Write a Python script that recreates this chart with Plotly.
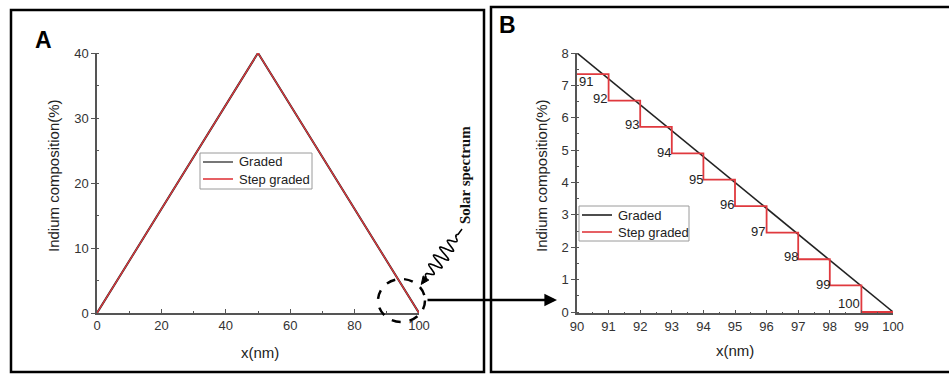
import numpy as np
import plotly.graph_objects as go

W, H = 949, 374

# ---------------- data ----------------
# Panel A: full profile
a_x_graded = [0, 50, 100]
a_y_graded = [0, 40, 0]
a_x_step = [0, 50, 100]
a_y_step = [0, 40, 0]

# Panel B: zoom 90-100 nm
b_x_graded = [90, 100]
b_y_graded = [8, 0]
step_edges = [90, 91, 92, 93, 94, 95, 96, 97, 98, 99, 100]
step_levels = [7.35, 6.53, 5.72, 4.90, 4.09, 3.27, 2.45, 1.63, 0.82, 0.0]
step_labels = ["91", "92", "93", "94", "95", "96", "97", "98", "99", "100"]
label_x = [90.27, 90.72, 91.74, 92.76, 93.78, 94.75, 95.73, 96.77, 97.78, 98.62]
label_y = [7.13, 6.60, 5.79, 4.92, 4.10, 3.32, 2.48, 1.71, 0.86, 0.25]

series_names = ["Graded", "Step graded"]

a_xticks = [0, 20, 40, 60, 80, 100]
a_yticks = [0, 10, 20, 30, 40]
b_xticks = [90, 91, 92, 93, 94, 95, 96, 97, 98, 99, 100]
b_yticks = [0, 1, 2, 3, 4, 5, 6, 7, 8]

BLACK = "#222222"
RED = "#e0393e"
FONT = "Liberation Sans, Arial, sans-serif"


def px(x):
    return x / W


def py(y):
    return 1 - y / H


fig = go.Figure()

fig.add_trace(go.Scatter(x=a_x_graded, y=a_y_graded, mode="lines", name=series_names[0],
                         line=dict(color=BLACK, width=2), xaxis="x", yaxis="y"))
fig.add_trace(go.Scatter(x=a_x_step, y=a_y_step, mode="lines", name=series_names[1],
                         line=dict(color=RED, width=1.3), xaxis="x", yaxis="y"))

fig.add_trace(go.Scatter(x=b_x_graded, y=b_y_graded, mode="lines", name=series_names[0],
                         line=dict(color=BLACK, width=1.6), xaxis="x2", yaxis="y2"))
fig.add_trace(go.Scatter(x=step_edges, y=step_levels + [step_levels[-1]], mode="lines",
                         name=series_names[1], line=dict(color=RED, width=1.8, shape="hv"),
                         xaxis="x2", yaxis="y2"))

tickfont = dict(family=FONT, size=13, color="#333")
axis_common = dict(showline=True, linecolor="#555", linewidth=1.5, showgrid=False,
                   zeroline=False, tickfont=tickfont, tickcolor="#555", ticklen=4,
                   tickwidth=1.2, fixedrange=True, automargin=False)

fig.update_layout(
    width=W, height=H,
    margin=dict(l=0, r=0, t=0, b=0, pad=0, autoexpand=False),
    paper_bgcolor="white", plot_bgcolor="rgba(0,0,0,0)",
    showlegend=False,
    xaxis=dict(domain=[px(97), px(419)], range=[0, 100], anchor="y",
               tickvals=a_xticks, ticks="inside",
               minor=dict(dtick=10, ticks="inside", ticklen=2, tickcolor="#555"),
               **axis_common),
    yaxis=dict(domain=[py(313), py(53)], range=[0, 40], anchor="x",
               tickvals=a_yticks, ticks="outside",
               minor=dict(dtick=5, ticks="inside", ticklen=2, tickcolor="#555"),
               **axis_common),
    xaxis2=dict(domain=[px(577), px(893)], range=[90, 100], anchor="y2",
                tickvals=b_xticks, ticks="inside",
                minor=dict(dtick=0.5, ticks="inside", ticklen=2, tickcolor="#555"),
                **axis_common),
    yaxis2=dict(domain=[py(313.3), py(53)], range=[-0.04, 8], anchor="x2",
                tickvals=b_yticks, ticks="outside",
                minor=dict(dtick=0.5, ticks="inside", ticklen=2, tickcolor="#555"),
                **axis_common),
)


def note(x, y, text, font, xanchor="center", **kw):
    fig.add_annotation(x=x, y=y, text=text, showarrow=False, font=font,
                       xanchor=xanchor, yanchor="middle", **kw)


# manual legends (box, line samples, labels)
def legend_box(x0, y0, x1, y1, rows, colors):
    fig.add_shape(type="rect", xref="paper", yref="paper", x0=px(x0), x1=px(x1),
                  y0=py(y0), y1=py(y1), line=dict(color="#9a9a9a", width=1),
                  fillcolor="white", layer="above")
    for (ry, name, col) in zip(rows, series_names, colors):
        fig.add_shape(type="line", xref="paper", yref="paper", x0=px(x0 + 3),
                      x1=px(x0 + 33), y0=py(ry), y1=py(ry),
                      line=dict(color=col, width=1.6), layer="above")
        note(px(x0 + 37), py(ry), name, dict(family=FONT, size=13, color="#222"),
             xanchor="left", xref="paper", yref="paper")


legend_box(200, 153, 312, 189, [162, 179], ["#555555", RED])
legend_box(579, 206, 689, 241, [215, 232], [BLACK, RED])

# step labels
for t, xv, yv in zip(step_labels, label_x, label_y):
    note(xv, yv, t, dict(family=FONT, size=13, color="#222"), xref="x2", yref="y2")

# axis titles
title_font = dict(family=FONT, size=15, color="#222")
note(px(260), py(352), "x(nm)", title_font, xref="paper", yref="paper")
note(px(735), py(350), "x(nm)", title_font, xref="paper", yref="paper")
note(px(53), py(176), "Indium composition(%)", title_font, xref="paper", yref="paper",
     textangle=-90)
note(px(541), py(176), "Indium composition(%)", title_font, xref="paper", yref="paper",
     textangle=-90)

# panel letters
note(px(43), py(40), "<b>A</b>", dict(family=FONT, size=23, color="black"),
     xref="paper", yref="paper")
note(px(507), py(25), "<b>B</b>", dict(family=FONT, size=23, color="black"),
     xref="paper", yref="paper")

# Solar spectrum text
note(px(465), py(175), "<b>Solar spectrum</b>",
     dict(family="Liberation Serif, Times New Roman, serif", size=15, color="#111"),
     xref="paper", yref="paper", textangle=-90)

# panel frames
fig.add_shape(type="rect", xref="paper", yref="paper", x0=px(11), x1=px(484),
              y0=py(10), y1=py(372), line=dict(color="black", width=2.5), layer="above")
fig.add_shape(type="rect", xref="paper", yref="paper", x0=px(491), x1=px(952),
              y0=py(7), y1=py(372), line=dict(color="black", width=2.5), layer="above")

# dashed circle
fig.add_shape(type="circle", xref="paper", yref="paper", x0=px(378), x1=px(425),
              y0=py(279), y1=py(322), line=dict(color="black", width=2.5, dash="dash"),
              layer="above")

# arrow from circle to panel B
fig.add_annotation(x=px(557), y=py(300), xref="paper", yref="paper", text="",
                   ax=-131, ay=0, showarrow=True, arrowhead=2, arrowsize=1.1,
                   arrowwidth=2.3, arrowcolor="black", standoff=0, startstandoff=0,
                   xanchor="center", yanchor="middle")

# wavy "light" line from text to the circle
p0 = np.array([423.0, 282.0])
p1 = np.array([462.0, 229.0])
d = p1 - p0
L = np.hypot(*d)
u = d / L
nvec = np.array([-u[1], u[0]])
t = np.linspace(0, 1, 300)
env = np.sin(np.pi * np.clip((t - 0.05) / 0.85, 0, 1)) ** 0.8
amp = 7.5 * env * np.sin(2 * np.pi * 6.5 * t)
pts = p0[None, :] + t[:, None] * d[None, :] + amp[:, None] * nvec[None, :]
path = "M " + " L ".join(f"{px(a):.5f},{py(b):.5f}" for a, b in pts)
fig.add_shape(type="path", xref="paper", yref="paper", path=path,
              line=dict(color="black", width=1.6), layer="above")
# arrow head at circle end
tip = p0 - u * 3
b1 = p0 + u * 5 + nvec * 3.5
b2 = p0 + u * 5 - nvec * 3.5
head = (f"M {px(tip[0]):.5f},{py(tip[1]):.5f} L {px(b1[0]):.5f},{py(b1[1]):.5f} "
        f"L {px(b2[0]):.5f},{py(b2[1]):.5f} Z")
fig.add_shape(type="path", xref="paper", yref="paper", path=head,
              fillcolor="black", line=dict(color="black", width=1), layer="above")

fig.write_html("out.html")
